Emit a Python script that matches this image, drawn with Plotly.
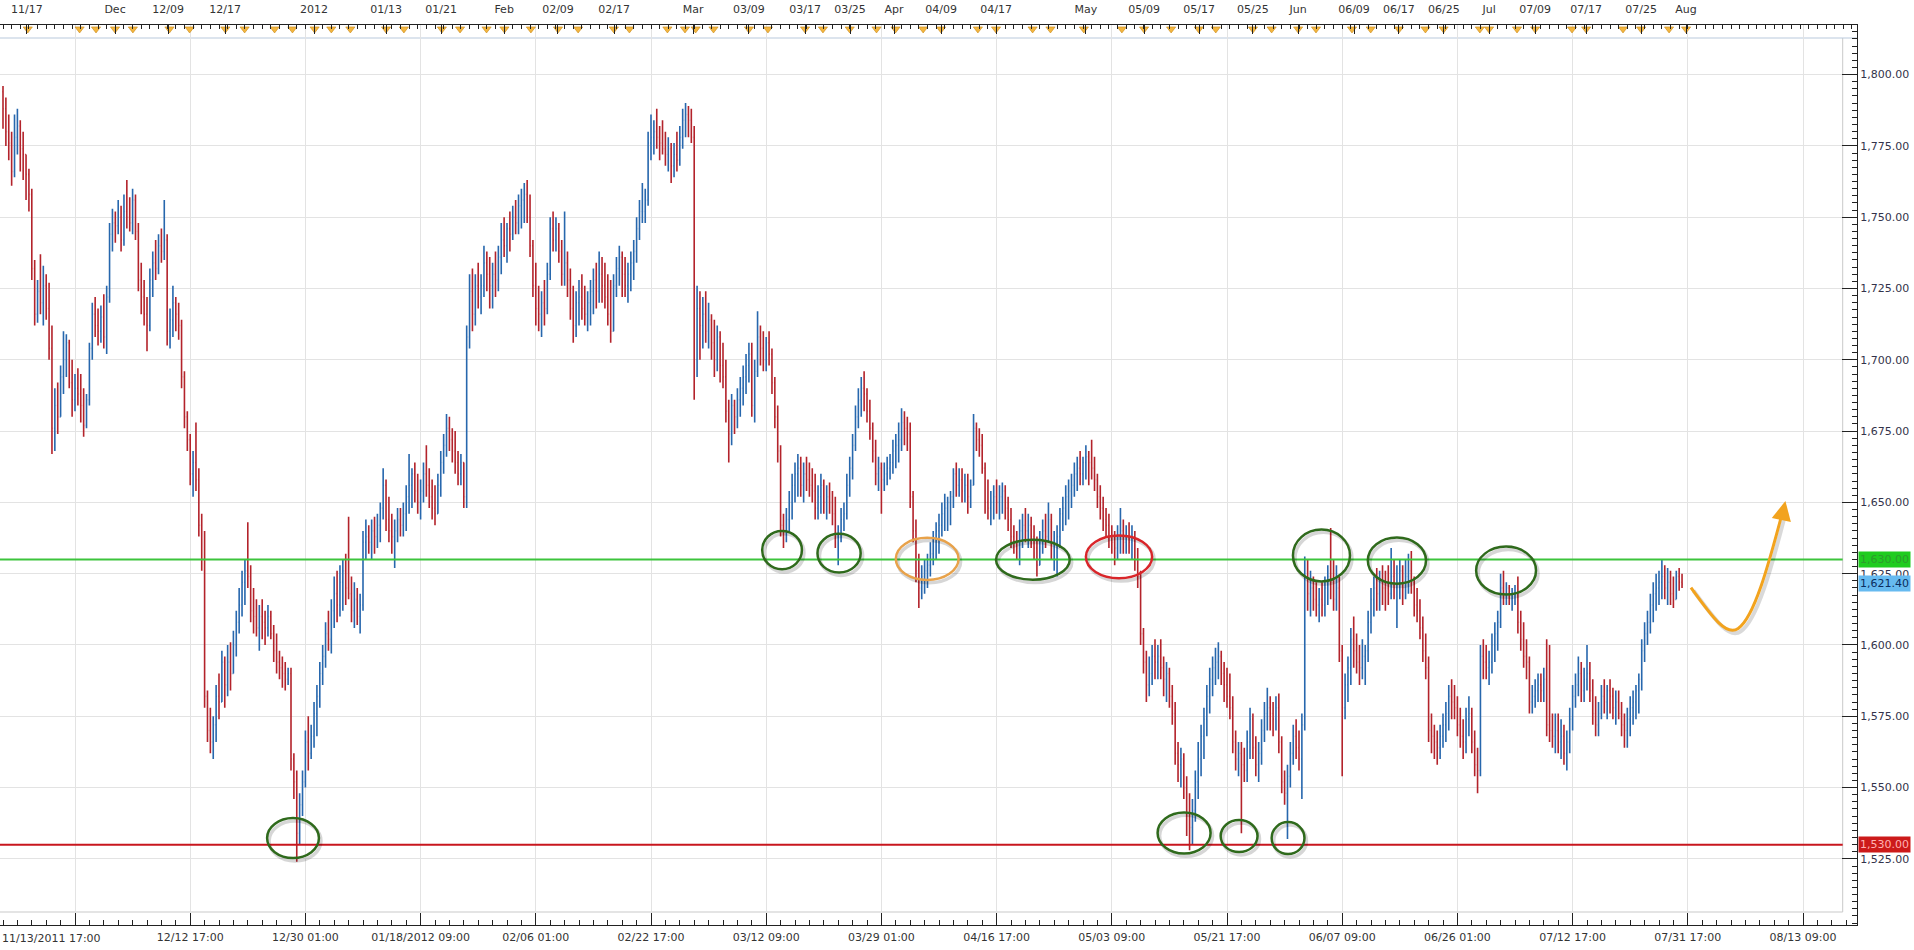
import plotly.graph_objects as go

# ---------------- DATA (8-hour bars) ----------------
first_open = 1794
highs = [
    1796, 1792, 1786, 1780, 1786, 1788, 1784, 1780, 1772, 1767,
    1760, 1735, 1728, 1737, 1733, 1730, 1727, 1712, 1690, 1692,
    1698, 1710, 1709, 1707, 1700, 1695, 1697, 1695, 1690, 1688,
    1706, 1720, 1722, 1718, 1719, 1723, 1726, 1748, 1753, 1752,
    1756, 1754, 1758, 1763, 1757, 1760, 1758, 1748, 1734, 1728,
    1722, 1732, 1738, 1742, 1744, 1746, 1756, 1744, 1718, 1726,
    1722, 1720, 1714, 1696, 1682, 1674, 1668, 1678, 1662, 1646,
    1640, 1584, 1578, 1575, 1586, 1590, 1598, 1596, 1600, 1601,
    1605, 1612, 1620, 1626, 1630, 1643, 1628, 1620, 1616, 1614,
    1616, 1612, 1614, 1612, 1607, 1604, 1598, 1596, 1594, 1592,
    1592, 1562, 1556, 1548, 1556, 1570, 1575, 1572, 1580, 1586,
    1594, 1600, 1608, 1612, 1616, 1624, 1626, 1628, 1630, 1632,
    1645, 1624, 1622, 1620, 1618, 1640, 1644, 1642, 1644, 1645,
    1646, 1650, 1662, 1658, 1652, 1646, 1644, 1648, 1648, 1650,
    1656, 1667, 1662, 1664, 1660, 1658, 1664, 1670, 1662, 1658,
    1656, 1660, 1668, 1674, 1681, 1680, 1676, 1675, 1668, 1667,
    1664, 1712, 1730, 1732, 1730, 1734, 1730, 1740, 1738, 1736,
    1734, 1738, 1740, 1748, 1750, 1748, 1752, 1754, 1756, 1758,
    1760, 1762, 1763, 1758, 1742, 1734, 1726, 1724, 1728, 1734,
    1750, 1752, 1750, 1748, 1742, 1752, 1738, 1732, 1726, 1724,
    1728, 1730, 1726, 1724, 1728, 1732, 1734, 1738, 1736, 1734,
    1730, 1728, 1730, 1736, 1740, 1738, 1736, 1734, 1738, 1742,
    1750, 1756, 1762, 1760, 1780, 1786, 1784, 1788, 1782, 1784,
    1780, 1778, 1776, 1776, 1780, 1782, 1788, 1790, 1789, 1788,
    1782, 1726, 1724, 1722, 1724, 1720, 1716, 1714, 1712, 1710,
    1706, 1700, 1686, 1688, 1686, 1690, 1694, 1698, 1702, 1706,
    1706, 1700, 1717, 1712, 1710, 1708, 1710, 1704, 1694, 1684,
    1670, 1646, 1648, 1654, 1660, 1664, 1667, 1666, 1664, 1666,
    1664, 1662, 1660, 1656, 1660, 1658, 1656, 1657, 1654, 1652,
    1642, 1648, 1650, 1660, 1666, 1674, 1684, 1690, 1694, 1696,
    1690, 1686, 1678, 1672, 1666, 1664, 1664, 1666, 1667, 1672,
    1674, 1678, 1683, 1682, 1680, 1678, 1654, 1644, 1632, 1628,
    1630, 1632, 1636, 1640, 1643, 1646, 1650, 1653, 1652, 1654,
    1662, 1664, 1662, 1662, 1660, 1660, 1658, 1681, 1678, 1676,
    1674, 1664, 1658, 1654, 1656, 1658, 1656, 1657, 1656, 1652,
    1648, 1642, 1640, 1644, 1646, 1648, 1646, 1645, 1642, 1638,
    1640, 1644, 1646, 1650, 1646, 1640, 1642, 1648, 1652, 1656,
    1658, 1660, 1664, 1666, 1668, 1666, 1670, 1668, 1672, 1666,
    1660, 1656, 1652, 1648, 1646, 1642, 1640, 1642, 1648, 1644,
    1642, 1643, 1642, 1640, 1634, 1626, 1606, 1598, 1596, 1600,
    1602, 1600, 1602, 1596, 1594, 1592, 1586, 1580, 1566, 1564,
    1562, 1554, 1548, 1546, 1556, 1566, 1572, 1578, 1586, 1592,
    1596, 1599, 1601, 1598, 1594, 1592, 1590, 1582, 1570, 1566,
    1566, 1564, 1570, 1578, 1576, 1568, 1566, 1574, 1580, 1585,
    1582, 1580, 1582, 1583, 1568, 1556, 1558, 1566, 1572, 1574,
    1570, 1576, 1631, 1630, 1626, 1624, 1622, 1620, 1622, 1624,
    1628, 1641, 1630, 1628, 1624, 1600, 1590, 1596, 1606, 1610,
    1604, 1600, 1602, 1600, 1612, 1620, 1624, 1627, 1626, 1628,
    1626, 1628, 1634, 1630, 1628, 1630, 1628, 1630, 1632, 1633,
    1624, 1620, 1616, 1610, 1604, 1596, 1576, 1572, 1570, 1572,
    1576, 1580, 1586, 1588, 1586, 1582, 1578, 1574, 1578, 1582,
    1578, 1570, 1564, 1600, 1602, 1600, 1598, 1604, 1608, 1612,
    1625, 1626, 1622, 1621, 1620, 1621, 1624, 1612, 1608, 1602,
    1596, 1586, 1588, 1590, 1590, 1592, 1602, 1600, 1576, 1576,
    1576, 1574, 1572, 1570, 1578, 1586, 1590, 1596, 1594, 1592,
    1600, 1594, 1588, 1582, 1580, 1586, 1588, 1586, 1588, 1585,
    1584, 1584, 1580, 1576, 1578, 1582, 1584, 1586, 1590, 1602,
    1608, 1612, 1618, 1622, 1625, 1626, 1630, 1628, 1627, 1626,
    1624, 1626, 1627, 1625,
]
lows = [
    1781, 1775, 1770, 1761, 1764, 1772, 1766, 1763, 1756, 1752,
    1728, 1712, 1713, 1716, 1712, 1714, 1700, 1667, 1668, 1674,
    1680, 1688, 1694, 1690, 1680, 1682, 1684, 1678, 1673, 1676,
    1684, 1700, 1708, 1705, 1706, 1704, 1702, 1720, 1738, 1741,
    1744, 1738, 1740, 1746, 1745, 1744, 1742, 1724, 1716, 1712,
    1703, 1710, 1722, 1728, 1730, 1734, 1735, 1705, 1704, 1708,
    1710, 1707, 1690, 1676, 1668, 1656, 1652, 1654, 1638, 1626,
    1578, 1566, 1562, 1560, 1566, 1574, 1580, 1578, 1582, 1584,
    1590, 1596, 1604, 1610, 1614, 1620, 1608, 1604, 1603, 1598,
    1602, 1600, 1603, 1602, 1594, 1590, 1588, 1585, 1584, 1586,
    1556, 1546, 1524, 1530, 1540, 1550, 1556, 1560, 1564, 1568,
    1578, 1586, 1592, 1598, 1597, 1606, 1608, 1610, 1612, 1614,
    1616, 1608, 1606, 1607, 1604, 1612, 1630, 1632, 1630, 1632,
    1634, 1636, 1644, 1640, 1636, 1632, 1627, 1636, 1638, 1638,
    1640, 1646, 1648, 1650, 1646, 1644, 1650, 1652, 1648, 1644,
    1642, 1646, 1652, 1660, 1666, 1668, 1664, 1660, 1656, 1656,
    1648, 1648, 1704, 1710, 1712, 1718, 1716, 1722, 1724, 1718,
    1718, 1722, 1724, 1730, 1736, 1734, 1738, 1742, 1744, 1744,
    1746, 1748, 1748, 1736, 1722, 1712, 1710, 1708, 1712, 1716,
    1728, 1738, 1738, 1734, 1726, 1726, 1722, 1714, 1706, 1708,
    1712, 1714, 1712, 1710, 1712, 1716, 1718, 1720, 1720, 1718,
    1712, 1706, 1710, 1722, 1726, 1722, 1722, 1720, 1724, 1728,
    1734, 1742, 1748, 1748, 1754, 1770, 1772, 1774, 1770, 1772,
    1768, 1766, 1762, 1764, 1766, 1768, 1774, 1778, 1778, 1776,
    1686, 1694, 1700, 1704, 1706, 1704, 1700, 1694, 1696, 1692,
    1690, 1678, 1664, 1670, 1674, 1676, 1680, 1684, 1688, 1692,
    1680, 1678, 1694, 1698, 1696, 1696, 1698, 1688, 1676, 1664,
    1638, 1634, 1636, 1640, 1644, 1650, 1652, 1652, 1650, 1654,
    1652, 1650, 1644, 1644, 1646, 1646, 1644, 1646, 1642, 1634,
    1628, 1636, 1640, 1644, 1652, 1658, 1668, 1676, 1680, 1682,
    1678, 1672, 1664, 1656, 1654, 1646, 1654, 1656, 1658, 1660,
    1662, 1664, 1668, 1670, 1668, 1648, 1636, 1622, 1613, 1616,
    1618, 1620, 1624, 1628, 1630, 1632, 1638, 1640, 1640, 1642,
    1648, 1652, 1652, 1650, 1650, 1646, 1648, 1656, 1668, 1666,
    1660, 1646, 1644, 1642, 1644, 1646, 1644, 1646, 1644, 1640,
    1634, 1632, 1630, 1628, 1634, 1636, 1634, 1634, 1630, 1624,
    1628, 1632, 1634, 1636, 1630, 1626, 1624, 1634, 1640, 1642,
    1644, 1648, 1652, 1654, 1656, 1656, 1658, 1656, 1658, 1654,
    1648, 1644, 1640, 1638, 1634, 1632, 1628, 1630, 1632, 1632,
    1632, 1632, 1630, 1626, 1620, 1600, 1590, 1580, 1582, 1586,
    1588, 1588, 1588, 1582, 1580, 1578, 1572, 1558, 1552, 1550,
    1546, 1533, 1528, 1530, 1538, 1546, 1554, 1560, 1568, 1576,
    1582, 1586, 1588, 1586, 1580, 1578, 1574, 1562, 1556, 1554,
    1534, 1552, 1552, 1560, 1560, 1554, 1552, 1558, 1566, 1570,
    1570, 1568, 1570, 1562, 1548, 1544, 1532, 1550, 1558, 1560,
    1556, 1546, 1570, 1612, 1610, 1612, 1610, 1608, 1610, 1610,
    1614, 1616, 1612, 1612, 1594, 1554, 1574, 1580, 1586, 1592,
    1590, 1586, 1588, 1586, 1594, 1604, 1610, 1612, 1612, 1614,
    1612, 1614, 1616, 1616, 1606, 1616, 1614, 1616, 1618, 1618,
    1610, 1608, 1602, 1594, 1588, 1566, 1562, 1560, 1558, 1560,
    1564, 1566, 1570, 1574, 1574, 1568, 1564, 1560, 1562, 1568,
    1562, 1554, 1548, 1554, 1588, 1588, 1586, 1590, 1594, 1598,
    1606, 1614, 1614, 1614, 1612, 1614, 1604, 1598, 1592, 1588,
    1576, 1576, 1578, 1580, 1580, 1580, 1568, 1566, 1564, 1562,
    1562, 1560, 1558, 1556, 1562, 1570, 1578, 1582, 1580, 1580,
    1584, 1580, 1572, 1568, 1568, 1574, 1576, 1574, 1576, 1574,
    1572, 1574, 1568, 1564, 1564, 1568, 1572, 1574, 1576, 1584,
    1594, 1600, 1604, 1608, 1612, 1614, 1616, 1616, 1614, 1614,
    1613, 1616, 1619, 1620,
]
closes = [
    1788, 1780, 1776, 1766, 1778, 1782, 1774, 1772, 1765, 1758,
    1732, 1716, 1724, 1720, 1726, 1718, 1704, 1676, 1684, 1680,
    1694, 1700, 1706, 1692, 1686, 1690, 1688, 1684, 1677, 1686,
    1704, 1716, 1712, 1710, 1715, 1708, 1722, 1744, 1748, 1747,
    1750, 1742, 1752, 1750, 1748, 1756, 1745, 1728, 1722, 1716,
    1712, 1728, 1734, 1732, 1740, 1738, 1742, 1710, 1714, 1720,
    1716, 1712, 1694, 1680, 1672, 1660, 1664, 1658, 1642, 1630,
    1582, 1570, 1566, 1572, 1582, 1580, 1594, 1586, 1594, 1590,
    1600, 1608, 1614, 1622, 1626, 1624, 1612, 1610, 1606, 1610,
    1608, 1606, 1610, 1604, 1598, 1594, 1592, 1590, 1588, 1590,
    1560, 1552, 1534, 1544, 1552, 1566, 1562, 1568, 1576, 1582,
    1590, 1596, 1604, 1602, 1612, 1618, 1614, 1622, 1626, 1620,
    1618, 1612, 1616, 1610, 1614, 1636, 1638, 1636, 1640, 1638,
    1642, 1648, 1656, 1644, 1640, 1638, 1640, 1644, 1642, 1646,
    1652, 1656, 1660, 1654, 1650, 1654, 1660, 1656, 1652, 1648,
    1646, 1656, 1664, 1670, 1676, 1672, 1668, 1664, 1660, 1664,
    1652, 1708, 1724, 1716, 1726, 1722, 1726, 1734, 1730, 1726,
    1730, 1728, 1736, 1742, 1740, 1746, 1744, 1750, 1748, 1754,
    1756, 1758, 1750, 1740, 1726, 1718, 1716, 1720, 1718, 1730,
    1746, 1742, 1746, 1738, 1730, 1734, 1728, 1718, 1712, 1720,
    1722, 1718, 1716, 1720, 1724, 1728, 1724, 1730, 1726, 1722,
    1716, 1710, 1726, 1732, 1736, 1730, 1726, 1730, 1734, 1738,
    1746, 1752, 1752, 1756, 1776, 1778, 1780, 1778, 1776, 1774,
    1772, 1774, 1768, 1772, 1770, 1778, 1784, 1786, 1784, 1778,
    1700, 1718, 1712, 1716, 1710, 1714, 1706, 1700, 1708, 1698,
    1694, 1682, 1674, 1684, 1680, 1686, 1690, 1694, 1698, 1702,
    1684, 1696, 1708, 1704, 1700, 1706, 1702, 1692, 1680, 1668,
    1642, 1640, 1644, 1650, 1656, 1660, 1662, 1656, 1660, 1658,
    1656, 1654, 1648, 1652, 1656, 1650, 1652, 1650, 1646, 1638,
    1640, 1644, 1646, 1656, 1662, 1670, 1680, 1686, 1690, 1688,
    1682, 1676, 1668, 1660, 1662, 1658, 1660, 1662, 1664, 1668,
    1670, 1672, 1678, 1676, 1674, 1652, 1640, 1626, 1620, 1624,
    1626, 1628, 1632, 1636, 1640, 1642, 1646, 1648, 1650, 1652,
    1660, 1656, 1658, 1654, 1656, 1652, 1656, 1676, 1672, 1670,
    1662, 1650, 1648, 1650, 1652, 1650, 1652, 1654, 1648, 1644,
    1638, 1636, 1634, 1640, 1642, 1640, 1642, 1638, 1634, 1628,
    1636, 1640, 1638, 1644, 1634, 1636, 1638, 1646, 1648, 1652,
    1654, 1656, 1660, 1662, 1660, 1664, 1666, 1664, 1662, 1658,
    1652, 1648, 1644, 1642, 1638, 1636, 1634, 1638, 1640, 1636,
    1638, 1636, 1638, 1630, 1624, 1604, 1594, 1586, 1590, 1596,
    1594, 1596, 1592, 1588, 1590, 1582, 1576, 1562, 1558, 1560,
    1550, 1540, 1536, 1542, 1552, 1560, 1568, 1574, 1582, 1588,
    1592, 1594, 1596, 1590, 1586, 1582, 1578, 1566, 1560, 1562,
    1558, 1556, 1566, 1574, 1564, 1558, 1562, 1570, 1576, 1578,
    1576, 1574, 1578, 1566, 1552, 1548, 1554, 1562, 1568, 1564,
    1560, 1572, 1624, 1618, 1620, 1616, 1614, 1616, 1614, 1620,
    1624, 1622, 1616, 1620, 1598, 1578, 1586, 1592, 1602, 1598,
    1594, 1592, 1596, 1598, 1608, 1616, 1620, 1618, 1622, 1620,
    1620, 1618, 1624, 1620, 1622, 1626, 1620, 1624, 1626, 1622,
    1614, 1612, 1606, 1598, 1592, 1570, 1568, 1566, 1564, 1568,
    1572, 1576, 1582, 1580, 1578, 1572, 1568, 1566, 1574, 1576,
    1566, 1558, 1556, 1596, 1594, 1592, 1594, 1600, 1604, 1608,
    1620, 1618, 1620, 1616, 1618, 1618, 1608, 1602, 1596, 1594,
    1580, 1582, 1584, 1586, 1584, 1588, 1572, 1570, 1568, 1570,
    1566, 1568, 1562, 1566, 1574, 1582, 1586, 1590, 1584, 1588,
    1590, 1584, 1576, 1572, 1576, 1582, 1580, 1584, 1582, 1578,
    1580, 1576, 1572, 1570, 1574, 1578, 1580, 1584, 1588, 1598,
    1604, 1608, 1614, 1618, 1620, 1622, 1624, 1620, 1622, 1618,
    1616, 1624, 1622, 1621.4,
]
bar_index = list(range(len(closes)))
opens = [first_open] + closes[:-1]

resistance_level = 1630.00
support_level = 1530.00
last_price = 1621.40

# bottom time axis (bar index of each gridline)
bottom_tick_idx = [25, 65, 105, 145, 185, 225, 265, 305, 345, 385, 425, 465, 505, 545, 585, 625]
bottom_tick_text = ["", "12/12 17:00", "12/30 01:00", "01/18/2012 09:00", "02/06 01:00",
                    "02/22 17:00", "03/12 09:00", "03/29 01:00", "04/16 17:00", "05/03 09:00",
                    "05/21 17:00", "06/07 09:00", "06/26 01:00", "07/12 17:00", "07/31 17:00",
                    "08/13 09:00"]
first_bar_label = "11/13/2011 17:00"

# top date axis
top_tick_idx = [8.3, 38.9, 57.3, 77.1, 108.0, 133.0, 152.1, 174.0, 192.7, 212.2,
                239.6, 259.0, 278.5, 294.1, 309.4, 325.7, 344.8, 376.0, 396.2, 415.3,
                434.0, 449.7, 469.1, 484.7, 500.3, 516.0, 532.0, 549.7, 568.8, 584.4]
top_tick_text = ["11/17", "Dec", "12/09", "12/17", "2012", "01/13", "01/21", "Feb", "02/09", "02/17",
                 "Mar", "03/09", "03/17", "03/25", "Apr", "04/09", "04/17", "May", "05/09", "05/17",
                 "05/25", "Jun", "06/09", "06/17", "06/25", "Jul", "07/09", "07/17", "07/25", "Aug"]
top_marker_idx = [8.6, 26.6, 32.3, 38.9, 45.1, 57.8, 64.8, 77.2, 83.9, 94.3, 100.5, 108.2,
                  114.0, 120.6, 133.0, 139.2, 152.4, 158.7, 167.9, 174.1, 183.3, 192.7, 199.7,
                  212.1, 217.5, 230.7, 236.8, 240.5, 246.7, 259.0, 265.6, 278.5, 284.7, 294.0,
                  303.3, 309.9, 319.5, 325.7, 338.5, 344.8, 357.5, 363.7, 375.3, 388.5, 396.2,
                  405.6, 415.2, 421.1, 434.0, 440.5, 449.7, 455.9, 468.4, 474.9, 484.7, 493.9,
                  500.2, 512.8, 516.0, 525.7, 532.0, 544.8, 549.7, 562.5, 568.8, 578.5, 584.4]

# highlighted zones: (centre bar, centre price, half-width in bars, half-height in price, colour)
ellipses = [
    (100.7, 1532.3, 9.0, 7.0, "#2f6a1c"),
    (270.5, 1633.3, 6.9, 6.7, "#2f6a1c"),
    (290.3, 1632.2, 7.5, 6.8, "#2f6a1c"),
    (320.9, 1630.2, 10.9, 7.4, "#e8a24a"),
    (357.6, 1629.9, 12.8, 7.0, "#2f6a1c"),
    (387.5, 1630.9, 11.5, 7.5, "#d9262a"),
    (410.1, 1534.1, 9.2, 7.2, "#2f6a1c"),
    (429.2, 1533.0, 6.4, 5.6, "#2f6a1c"),
    (446.2, 1532.3, 5.7, 5.6, "#2f6a1c"),
    (457.8, 1631.4, 9.9, 9.1, "#2f6a1c"),
    (484.0, 1629.6, 10.1, 8.1, "#2f6a1c"),
    (521.9, 1626.1, 10.4, 8.4, "#2f6a1c"),
]

# ---------------- GEOMETRY ----------------
W, H = 1914, 950
PLOT_L, PLOT_R, PLOT_T, PLOT_B = 0, 1857, 25, 925
X_RANGE = [-1.042, 643.75]
Y_RANGE = [1501.82, 1817.39]
inner_r = (1842.7 - PLOT_L) / (PLOT_R - PLOT_L)
inner_b = (PLOT_B - 912) / (PLOT_B - PLOT_T)
inner_t = (PLOT_B - 38) / (PLOT_B - PLOT_T)

FONT = "DejaVu Sans"
UP = "#2767ad"
DOWN = "#b3232b"

fig = go.Figure()

fig.add_trace(go.Ohlc(
    x=bar_index, open=opens, high=highs, low=lows, close=closes,
    increasing=dict(line=dict(color=UP, width=1.6)),
    decreasing=dict(line=dict(color=DOWN, width=1.6)),
    tickwidth=0.3, hoverinfo="skip", showlegend=False,
))

fig.add_trace(go.Scatter(
    x=top_marker_idx, y=[1816.0] * len(top_marker_idx), xaxis="x2", yaxis="y",
    mode="markers", cliponaxis=False, hoverinfo="skip", showlegend=False,
    marker=dict(symbol="triangle-down", size=8, color="#f3b640",
                line=dict(color="#c98a1a", width=0.6)),
))

shapes = []
shapes.append(dict(type="rect", xref="paper", yref="paper", x0=0, x1=1, y0=inner_t, y1=1,
                   fillcolor="white", line=dict(width=0), layer="below"))
shapes.append(dict(type="rect", xref="paper", yref="paper", x0=0, x1=1, y0=0, y1=inner_b,
                   fillcolor="white", line=dict(width=0), layer="below"))
shapes.append(dict(type="rect", xref="paper", yref="paper", x0=inner_r, x1=1, y0=0, y1=1,
                   fillcolor="white", line=dict(width=0), layer="below"))
shapes.append(dict(type="line", xref="paper", yref="paper", x0=inner_r, x1=inner_r,
                   y0=inner_b, y1=inner_t, line=dict(color="#c9c9c9", width=1), layer="below"))
shapes.append(dict(type="line", xref="paper", yref="paper", x0=0, x1=inner_r,
                   y0=inner_b, y1=inner_b, line=dict(color="#c9c9c9", width=1), layer="below"))
shapes.append(dict(type="line", xref="paper", yref="paper", x0=0, x1=1,
                   y0=inner_t, y1=inner_t, line=dict(color="#b9c9dc", width=1), layer="below"))
shapes.append(dict(type="line", xref="paper", yref="y", x0=0, x1=inner_r,
                   y0=resistance_level, y1=resistance_level,
                   line=dict(color="#3cc43c", width=2), layer="above"))
shapes.append(dict(type="line", xref="paper", yref="y", x0=0, x1=inner_r,
                   y0=support_level, y1=support_level,
                   line=dict(color="#c8161e", width=2), layer="above"))
for cx, cy, hw, hh, col in ellipses:
    shapes.append(dict(type="circle", xref="x", yref="y",
                       x0=cx - hw + 0.7, x1=cx + hw + 0.7, y0=cy - hh - 1.0, y1=cy + hh - 1.0,
                       line=dict(color="rgba(0,0,0,0.16)", width=3.5), layer="above"))
    shapes.append(dict(type="circle", xref="x", yref="y",
                       x0=cx - hw, x1=cx + hw, y0=cy - hh, y1=cy + hh,
                       line=dict(color=col, width=2.5), layer="above"))
curve = "M 586.1 1620.1 C 594 1609, 598.5 1603, 602.5 1605.8 C 608 1609.5, 613 1628, 617.6 1645.5"
curve_sh = "M 587.0 1619.0 C 595 1608, 599.4 1602, 603.4 1604.8 C 609 1608.5, 614 1627, 618.5 1644.5"
shapes.append(dict(type="path", xref="x", yref="y", path=curve_sh,
                   line=dict(color="rgba(0,0,0,0.15)", width=4), layer="above"))
shapes.append(dict(type="path", xref="x", yref="y", path=curve,
                   line=dict(color="#f2a31e", width=3), layer="above"))

annotations = [
    dict(x=0, y=0, xref="paper", yref="paper", xanchor="left", yanchor="top", yshift=-5,
         text=first_bar_label, showarrow=False, font=dict(family=FONT, size=11, color="#333")),
    dict(x=618.9, y=1650.5, xref="x", yref="y", ax=-3, ay=14, showarrow=True,
         arrowhead=2, arrowsize=1.3, arrowwidth=3, arrowcolor="#f2a31e", text=""),
    dict(x=1, y=resistance_level, xref="paper", yref="y", xanchor="left", xshift=1,
         text="1,630.00", showarrow=False, bgcolor="#1fcc1f", borderpad=1,
         font=dict(family=FONT, size=11, color="#2c9b2c")),
    dict(x=1, y=last_price, xref="paper", yref="y", xanchor="left", xshift=1,
         text="1,621.40", showarrow=False, bgcolor="#66baf0", borderpad=1,
         font=dict(family=FONT, size=11, color="#0b2c5e")),
    dict(x=1, y=support_level, xref="paper", yref="y", xanchor="left", xshift=1,
         text="1,530.00", showarrow=False, bgcolor="#cc1a1a", borderpad=1,
         font=dict(family=FONT, size=11, color="#ffb3b3")),
]

fig.update_layout(
    width=W, height=H,
    margin=dict(l=PLOT_L, r=W - PLOT_R, t=PLOT_T, b=H - PLOT_B, pad=0),
    paper_bgcolor="white", plot_bgcolor="white",
    font=dict(family=FONT, size=11, color="#333"),
    showlegend=False, hovermode=False,
    shapes=shapes, annotations=annotations,
    xaxis=dict(
        range=X_RANGE, tickmode="array", tickvals=bottom_tick_idx, ticktext=bottom_tick_text,
        showgrid=True, gridcolor="#e3e3e3", gridwidth=1, zeroline=False,
        ticks="inside", ticklen=12, tickcolor="#222", tickwidth=1,
        showline=True, linecolor="#222", linewidth=1,
        minor=dict(tickmode="linear", tick0=0, dtick=5, ticks="inside", ticklen=5,
                   tickcolor="#222", showgrid=False),
        rangeslider=dict(visible=False), fixedrange=True,
        ticklabelstandoff=2,
        tickfont=dict(family=FONT, size=11, color="#333"),
    ),
    xaxis2=dict(
        overlaying="x", side="top", anchor="y", range=X_RANGE,
        tickmode="array", tickvals=top_tick_idx, ticktext=top_tick_text,
        showgrid=False, zeroline=False,
        ticks="inside", ticklen=9, tickcolor="#222",
        showline=True, linecolor="#222", linewidth=1,
        minor=dict(tickmode="linear", tick0=0, dtick=3, ticks="inside", ticklen=4,
                   tickcolor="#222", showgrid=False),
        ticklabelstandoff=7, fixedrange=True,
        tickfont=dict(family=FONT, size=11, color="#333"),
    ),
    yaxis=dict(
        range=Y_RANGE, side="right", tick0=1500, dtick=25, tickformat=",.2f",
        showgrid=True, gridcolor="#e3e3e3", gridwidth=1, zeroline=False,
        ticks="inside", ticklen=15, tickcolor="#222",
        showline=True, linecolor="#222", linewidth=1,
        minor=dict(tickmode="linear", tick0=1500, dtick=2.5, ticks="inside", ticklen=5,
                   tickcolor="#222", showgrid=False),
        tickfont=dict(family=FONT, size=11, color="#33334a"), fixedrange=True,
    ),
)

fig.write_html("out.html", config={"displayModeBar": False},
               post_script="document.body.style.margin='0';document.body.style.overflow='hidden';")
